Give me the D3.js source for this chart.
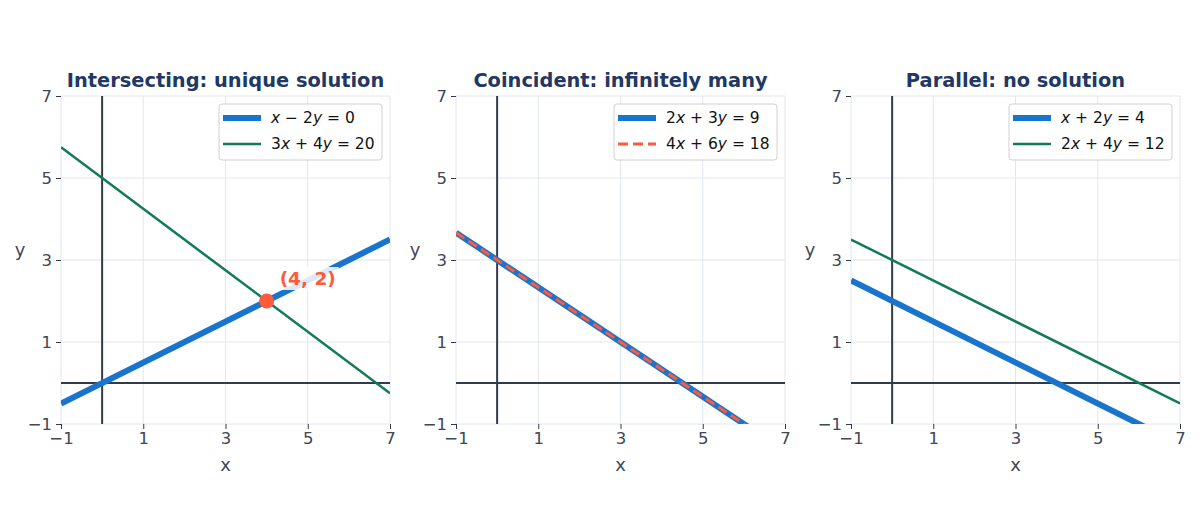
<!DOCTYPE html>
<html>
<head>
<meta charset="utf-8">
<script src="https://cdn.jsdelivr.net/npm/d3@7"></script>
<style>
  body { margin: 0; background: #fff; }
  svg { font-family: "DejaVu Sans", sans-serif; }
</style>
</head>
<body>
<div id="chart"></div>
<script>
// panel setup
const titles = ["Intersecting: unique solution", "Coincident: infinitely many", "Parallel: no solution"];
const xTicks = [-1, 1, 3, 5, 7];
const yTicks = [-1, 1, 3, 5, 7];
const xDomain = [-1, 7];
const yDomain = [-1, 7];

// line endpoints at x = -1 and x = 7
const panel1Lines = [
  { label: ["x", " − 2", "y", " = 0"], pts: [[-1, -0.5], [7, 3.5]], color: "#1874cd", width: 6, dash: null },
  { label: ["3", "x", " + 4", "y", " = 20"], pts: [[-1, 5.75], [7, -0.25]], color: "#117a56", width: 2.5, dash: null }
];
const panel2Lines = [
  { label: ["2", "x", " + 3", "y", " = 9"], pts: [[-1, 3.667], [7, -1.667]], color: "#1874cd", width: 6, dash: null },
  { label: ["4", "x", " + 6", "y", " = 18"], pts: [[-1, 3.667], [7, -1.667]], color: "#ff5a3c", width: 3, dash: "10,5" }
];
const panel3Lines = [
  { label: ["x", " + 2", "y", " = 4"], pts: [[-1, 2.5], [7, -1.5]], color: "#1874cd", width: 6, dash: null },
  { label: ["2", "x", " + 4", "y", " = 12"], pts: [[-1, 3.5], [7, -0.5]], color: "#117a56", width: 2.5, dash: null }
];
const solutionPoint = [4, 2];
const solutionLabel = "(4, 2)";

const panels = [panel1Lines, panel2Lines, panel3Lines];
const panelLeft = [61, 456, 851];
const plotW = 329, plotH = 328, plotTop = 96;

const svg = d3.select("#chart").append("svg")
  .attr("width", 1200).attr("height", 520);

const gridColor = "#e1e6ef";
const axisColor = "#333b4a";
const textColor = "#404756";

panels.forEach((lines, i) => {
  const g = svg.append("g").attr("transform", `translate(${panelLeft[i]},${plotTop})`);
  const x = d3.scaleLinear().domain(xDomain).range([0, plotW]);
  const y = d3.scaleLinear().domain(yDomain).range([plotH, 0]);

  g.append("defs").append("clipPath").attr("id", "clip" + i)
    .append("rect").attr("width", plotW).attr("height", plotH);

  // grid
  g.append("g").selectAll("line").data(xTicks).enter().append("line")
    .attr("x1", d => x(d)).attr("x2", d => x(d))
    .attr("y1", 0).attr("y2", plotH)
    .attr("stroke", gridColor).attr("stroke-width", 1);
  g.append("g").selectAll("line").data(yTicks).enter().append("line")
    .attr("y1", d => y(d)).attr("y2", d => y(d))
    .attr("x1", 0).attr("x2", plotW)
    .attr("stroke", gridColor).attr("stroke-width", 1);

  // axes (ticks only, no spines)
  const xAxis = g.append("g").attr("transform", `translate(0,${plotH})`)
    .call(d3.axisBottom(x).tickValues(xTicks).tickSize(5).tickPadding(3)
      .tickFormat(d => d < 0 ? "−" + Math.abs(d) : d));
  const yAxis = g.append("g")
    .call(d3.axisLeft(y).tickValues(yTicks).tickSize(5).tickPadding(4)
      .tickFormat(d => d < 0 ? "−" + Math.abs(d) : d));
  [xAxis, yAxis].forEach(a => {
    a.attr("font-size", null).attr("font-family", null);
    a.select(".domain").remove();
    a.selectAll(".tick line").attr("stroke", axisColor).attr("stroke-width", 1);
    a.selectAll(".tick text").attr("fill", textColor)
      .style("font-size", "16.5px").style("font-family", "DejaVu Sans");
  });

  // x=0, y=0 reference lines
  g.append("line").attr("x1", x(0)).attr("x2", x(0)).attr("y1", 0).attr("y2", plotH)
    .attr("stroke", axisColor).attr("stroke-width", 2);
  g.append("line").attr("y1", y(0)).attr("y2", y(0)).attr("x1", 0).attr("x2", plotW)
    .attr("stroke", axisColor).attr("stroke-width", 2);

  const line = d3.line().x(d => x(d[0])).y(d => y(d[1]));
  const lg = g.append("g").attr("clip-path", `url(#clip${i})`);
  lines.forEach(l => {
    lg.append("path").datum(l.pts)
      .attr("d", line)
      .attr("fill", "none")
      .attr("stroke", l.color)
      .attr("stroke-width", l.width)
      .attr("stroke-dasharray", l.dash);
  });

  if (i === 0) {
    g.append("circle")
      .attr("cx", x(solutionPoint[0])).attr("cy", y(solutionPoint[1]))
      .attr("r", 7.5).attr("fill", "#ff5a3c");
    const lx = x(solutionPoint[0]) + 13, ly = y(solutionPoint[1]) - 16;
    const lab = g.append("text")
      .attr("x", lx).attr("y", ly)
      .attr("fill", "#ff5a3c").attr("font-weight", "bold")
      .style("font-size", "18.5px")
      .text(solutionLabel);
    const bb = lab.node().getBBox();
    g.append("rect")
      .attr("x", bb.x - 3).attr("y", bb.y - 1)
      .attr("width", bb.width + 6).attr("height", bb.height + 2)
      .attr("fill", "#fff").attr("fill-opacity", 0.85);
    lab.raise();
  }

  // title
  g.append("text").attr("x", plotW / 2).attr("y", -9)
    .attr("text-anchor", "middle").attr("font-weight", "bold")
    .attr("fill", "#1f3864").style("font-size", "19.4px")
    .text(titles[i]);

  // axis labels
  g.append("text").attr("x", plotW / 2).attr("y", plotH + 47)
    .attr("text-anchor", "middle").attr("fill", textColor)
    .style("font-size", "18px").text("x");
  g.append("text").attr("x", -41).attr("y", 160)
    .attr("text-anchor", "middle").attr("fill", textColor)
    .style("font-size", "18px").text("y");

  // legend
  const legW = 163, legH = 56;
  const leg = g.append("g").attr("transform", `translate(${plotW - legW - 8},8)`);
  leg.append("rect").attr("width", legW).attr("height", legH)
    .attr("rx", 3).attr("fill", "#fff").attr("fill-opacity", 0.85)
    .attr("stroke", "#d0d0d0").attr("stroke-width", 1);
  lines.forEach((l, j) => {
    const ly = 14 + j * 26;
    leg.append("line").attr("x1", 4).attr("x2", 42).attr("y1", ly).attr("y2", ly)
      .attr("stroke", l.color).attr("stroke-width", l.width)
      .attr("stroke-dasharray", l.dash);
    const t = leg.append("text").attr("x", 52).attr("y", ly + 5)
      .attr("fill", "#111").style("font-size", "15.5px");
    l.label.forEach(part => {
      t.append("tspan")
        .attr("font-style", (part === "x" || part === "y") ? "italic" : "normal")
        .text(part);
    });
  });
});
</script>
</body>
</html>
